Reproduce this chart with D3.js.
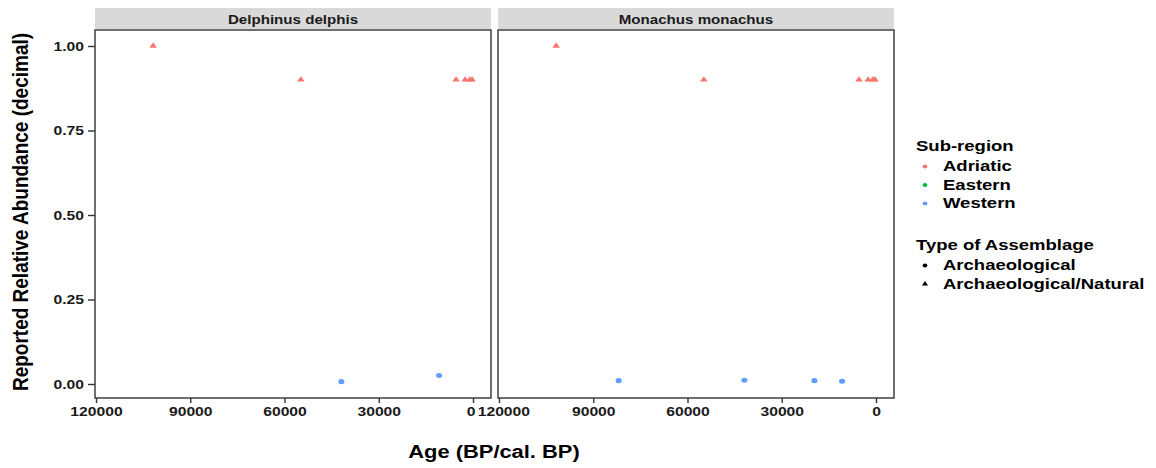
<!DOCTYPE html>
<html>
<head>
<meta charset="utf-8">
<script src="https://cdn.jsdelivr.net/npm/d3@7"></script>
<style>
  html, body { margin: 0; padding: 0; background: #ffffff; }
  svg { display: block; }
  text { font-family: "Liberation Sans", Arial, sans-serif; font-weight: bold; }
</style>
</head>
<body>
<svg id="chart" width="1156" height="468"></svg>
<script>
// ---------------- data ----------------
const panels = ["Delphinus delphis", "Monachus monachus"];
const regions = ["Adriatic", "Eastern", "Western"];
const regionColors = ["#F8766D", "#00BA38", "#619CFF"];
const assemblageTypes = ["Archaeological", "Archaeological/Natural"];

const delphinusAge    = [101800, 54800, 5400, 2500, 1000, 300, 41900, 10800];
const delphinusAbund  = [1.00, 0.90, 0.90, 0.90, 0.90, 0.90, 0.007, 0.025];
const delphinusRegion = ["Adriatic", "Adriatic", "Adriatic", "Adriatic", "Adriatic", "Adriatic", "Western", "Western"];
const delphinusType   = ["Archaeological/Natural", "Archaeological/Natural", "Archaeological/Natural", "Archaeological/Natural",
                         "Archaeological/Natural", "Archaeological/Natural", "Archaeological", "Archaeological"];

const monachusAge    = [101800, 54800, 5400, 2500, 1000, 300, 81900, 41900, 19600, 10800];
const monachusAbund  = [1.00, 0.90, 0.90, 0.90, 0.90, 0.90, 0.010, 0.011, 0.010, 0.008];
const monachusRegion = ["Adriatic", "Adriatic", "Adriatic", "Adriatic", "Adriatic", "Adriatic", "Western", "Western", "Western", "Western"];
const monachusType   = ["Archaeological/Natural", "Archaeological/Natural", "Archaeological/Natural", "Archaeological/Natural",
                        "Archaeological/Natural", "Archaeological/Natural", "Archaeological", "Archaeological", "Archaeological", "Archaeological"];

const xTicks = [120000, 90000, 60000, 30000, 0];
const yTicks = [0, 0.25, 0.50, 0.75, 1.00];

const xTitle = "Age (BP/cal. BP)";
const yTitle = "Reported Relative Abundance (decimal)";
const legendRegionTitle = "Sub-region";
const legendTypeTitle = "Type of Assemblage";

// ---------------- layout ----------------
const SX = 1.21;            // horizontal stretch of the reference rendering
const panelX = [[95, 491], [498, 894]];
const panelTop = 30, panelBottom = 398;
const stripTop = 8;
const borderColor = "#333333";
const textColor = "#1a1a1a";

const svg = d3.select("#chart");

const panelData = [
  delphinusAge.map((a, i) => ({age: a, ab: delphinusAbund[i], region: delphinusRegion[i], type: delphinusType[i]})),
  monachusAge.map((a, i) => ({age: a, ab: monachusAbund[i], region: monachusRegion[i], type: monachusType[i]}))
];

const y = d3.scaleLinear().domain([-0.0414, 1.0473]).range([panelBottom, panelTop]);
const color = d3.scaleOrdinal().domain(regions).range(regionColors);
const shape = d3.scaleOrdinal().domain(assemblageTypes).range([d3.symbolCircle, d3.symbolTriangle]);
const shapeSize = d3.scaleOrdinal().domain(assemblageTypes).range([20, 17]);

panels.forEach((name, p) => {
  const [x0, x1] = panelX[p];
  const x = d3.scaleLinear().domain([120318, -5729]).range([x0, x1]);
  const g = svg.append("g");

  // strip
  g.append("rect").attr("x", x0).attr("y", stripTop).attr("width", x1 - x0).attr("height", panelTop - stripTop - 1)
    .attr("fill", "#D9D9D9");
  g.append("text")
    .attr("transform", `translate(${(x0 + x1) / 2},24) scale(${SX},1)`)
    .attr("text-anchor", "middle").attr("font-size", 12.5).attr("fill", textColor).text(name);

  // panel background
  g.append("rect").attr("x", x0).attr("y", panelTop).attr("width", x1 - x0).attr("height", panelBottom - panelTop)
    .attr("fill", "#ffffff");

  // points
  g.append("g").selectAll("path").data(panelData[p]).join("path")
    .attr("transform", d => `translate(${x(d.age)},${y(d.ab)}) scale(${SX},1)`)
    .attr("d", d => d3.symbol().type(shape(d.type)).size(shapeSize(d.type))())
    .attr("fill", d => color(d.region));

  // border
  g.append("rect").attr("x", x0).attr("y", panelTop).attr("width", x1 - x0).attr("height", panelBottom - panelTop)
    .attr("fill", "none").attr("stroke", borderColor).attr("stroke-width", 1.4);

  // x axis
  const xa = g.append("g").attr("transform", `translate(0,${panelBottom})`)
    .call(d3.axisBottom(x).tickValues(xTicks).tickFormat(d3.format("d")).tickSize(5).tickPadding(4));
  xa.select(".domain").remove();
  xa.selectAll(".tick line").attr("stroke", borderColor).attr("stroke-width", 1.4);
  xa.selectAll(".tick text").attr("font-size", 13).attr("fill", textColor)
    .attr("font-family", "Liberation Sans, Arial, sans-serif").attr("font-weight", "bold")
    .attr("transform", `scale(${SX},1)`);
  // the "0" of the left panel and the "120000" of the right panel abut in the reference
  if (p === 0) xa.selectAll(".tick text").filter(d => d === 0).attr("dx", -2);
  if (p === 1) xa.selectAll(".tick text").filter(d => d === 120000).attr("dx", 3.6);

  // y axis (left panel only has labels)
  if (p === 0) {
    const ya = g.append("g").attr("transform", `translate(${x0},0)`)
      .call(d3.axisLeft(y).tickValues(yTicks).tickFormat(d3.format(".2f")).tickSize(7).tickPadding(4));
    ya.select(".domain").remove();
    ya.selectAll(".tick line").attr("stroke", borderColor).attr("stroke-width", 1.4);
    ya.selectAll(".tick text").attr("font-size", 13).attr("fill", textColor)
      .attr("font-family", "Liberation Sans, Arial, sans-serif").attr("font-weight", "bold")
      .attr("x", -11 / SX)
      .attr("transform", `scale(${SX},1)`);
  }
});

// axis titles
svg.append("text")
  .attr("transform", `translate(494,458) scale(1.23,1)`)
  .attr("text-anchor", "middle").attr("font-size", 17.8).attr("fill", "#000").text(xTitle);
svg.append("text")
  .attr("transform", `translate(28,212) scale(${SX},1) rotate(-90)`)
  .attr("text-anchor", "middle").attr("font-size", 19).attr("fill", "#000").text(yTitle);

// legends
const lg = svg.append("g");
function legendText(x, yb, str) {
  lg.append("text").attr("transform", `translate(${x},${yb}) scale(${SX},1)`)
    .attr("font-size", 15.3).attr("fill", "#000").text(str);
}
legendText(916, 150.5, legendRegionTitle);
const regionBaselines = [171, 189.5, 208];
regions.forEach((r, i) => {
  lg.append("path").attr("transform", `translate(925,${regionBaselines[i] - 4.5}) scale(${SX},1)`)
    .attr("d", d3.symbol().type(d3.symbolCircle).size(12)()).attr("fill", color(r));
  legendText(943, regionBaselines[i], r);
});
legendText(916, 250, legendTypeTitle);
const typeBaselines = [270, 288.5];
assemblageTypes.forEach((t, i) => {
  lg.append("path").attr("transform", `translate(925,${typeBaselines[i] - 4.5}) scale(${SX},1)`)
    .attr("d", d3.symbol().type(shape(t)).size(t === "Archaeological" ? 12 : 11)()).attr("fill", "#000");
  legendText(943, typeBaselines[i], t);
});
</script>
</body>
</html>
